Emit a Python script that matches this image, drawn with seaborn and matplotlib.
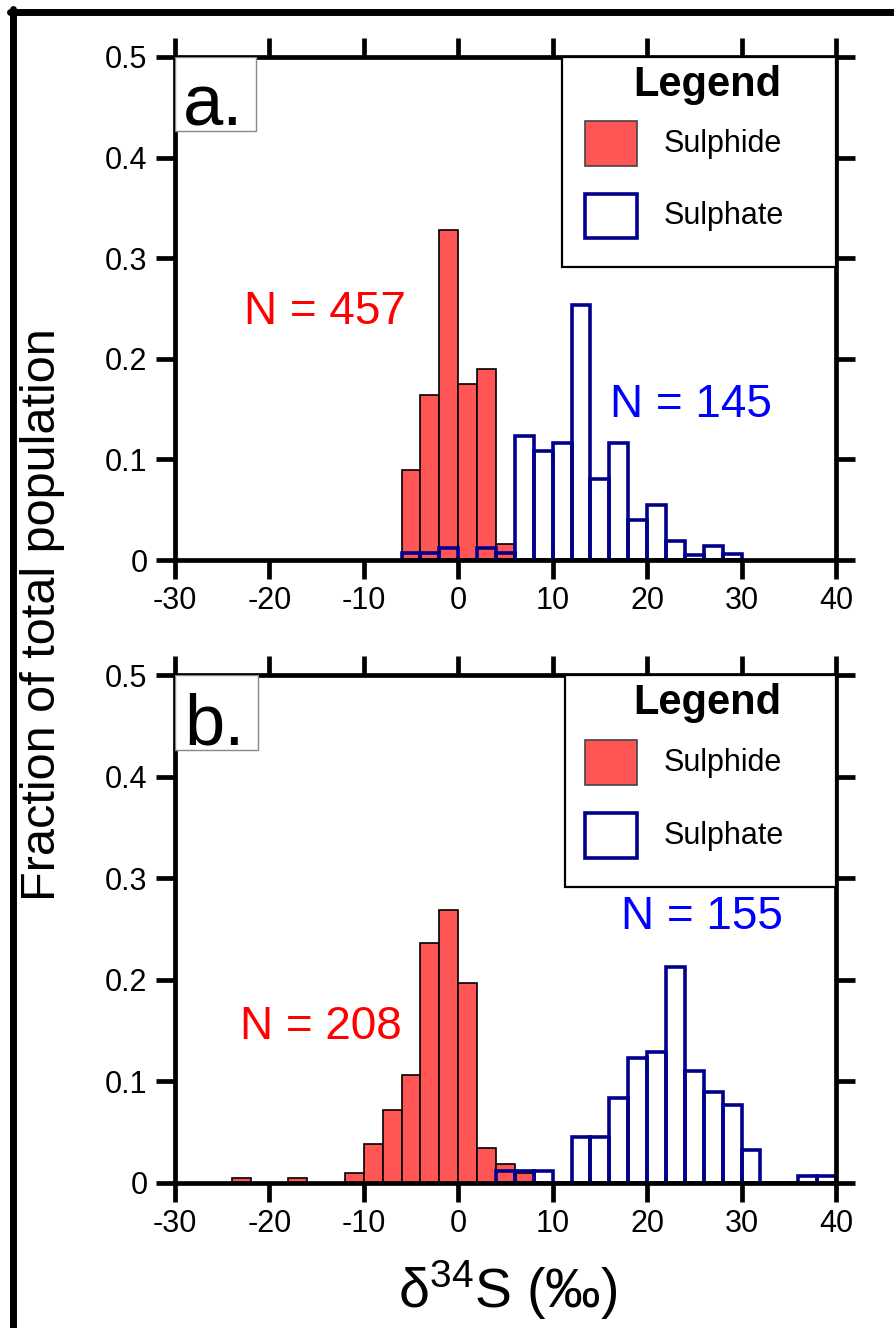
#!/usr/bin/env python3

# Sulphur isotope histograms, two panels (a. and b.)

import matplotlib
matplotlib.use("Agg")
import matplotlib.pyplot as plt
from matplotlib.patches import Rectangle
from matplotlib.lines import Line2D
import numpy as np
import pandas as pd
import seaborn as sns

# {{{ data

BIN_W = 2

# panel a
sulphide_a_start = -6
sulphide_a = [0.089, 0.164, 0.328, 0.175, 0.190, 0.016]
sulphate_a_start = -6
sulphate_a = [0.007, 0.007, 0.012, 0.0, 0.012, 0.007,
              0.123, 0.108, 0.116, 0.253, 0.081, 0.116,
              0.040, 0.055, 0.019, 0.005, 0.014, 0.006]
n_sulphide_a = "N = 457"
n_sulphate_a = "N = 145"

# panel b
sulphide_b_start = -24
sulphide_b = [0.005, 0.0, 0.0, 0.005, 0.0, 0.0, 0.0096, 0.038,
              0.072, 0.106, 0.236, 0.269, 0.197, 0.034, 0.019, 0.0096]
sulphate_b_start = 4
sulphate_b = [0.012, 0.012, 0.012, 0.0, 0.045, 0.045,
              0.084, 0.123, 0.129, 0.213, 0.110, 0.090,
              0.077, 0.032, 0.0, 0.0, 0.0065, 0.0065]
n_sulphide_b = "N = 208"
n_sulphate_b = "N = 155"

xticks = [-30, -20, -10, 0, 10, 20, 30, 40]
xticklabels = ["-30", "-20", "-10", "0", "10", "20", "30", "40"]
yticks = [0, 0.1, 0.2, 0.3, 0.4, 0.5]
yticklabels = ["0", "0.1", "0.2", "0.3", "0.4", "0.5"]

# }}} data

RED = "#FF5555"
NAVY = "#00008C"

sns.set_style("ticks")
plt.rcParams["font.family"] = ["Liberation Sans", "DejaVu Sans"]
plt.rcParams["mathtext.fontset"] = "custom"
plt.rcParams["mathtext.rm"] = "Liberation Sans"
plt.rcParams["mathtext.default"] = "regular"
plt.rcParams["text.color"] = "black"
plt.rcParams["axes.labelcolor"] = "black"
plt.rcParams["xtick.color"] = "black"
plt.rcParams["ytick.color"] = "black"


def hist(ax, start, values, **kw):
    edges = start + BIN_W * np.arange(len(values) + 1)
    df = pd.DataFrame({"d34s": edges[:-1] + BIN_W / 2, "frac": values})
    sns.histplot(data=df, x="d34s", weights="frac", binwidth=BIN_W,
                 binrange=(edges[0], edges[-1]), ax=ax, **kw)


def legend_box(ax, left):
    ax.add_patch(Rectangle((left, 0.5825), 1 - left, 0.4175,
                           transform=ax.transAxes, fill=True, facecolor="white",
                           edgecolor="black", linewidth=1.6, zorder=5, clip_on=False))
    ax.text(0.805, 0.944, "Legend", transform=ax.transAxes, ha="center", va="center",
            fontsize=30, fontweight="bold", color="black", zorder=6)
    ax.add_patch(Rectangle((0.620, 0.7833), 0.0787, 0.0895, transform=ax.transAxes,
                           facecolor=RED, edgecolor="#444444", linewidth=1.2, zorder=6))
    ax.text(0.740, 0.827, "Sulphide", transform=ax.transAxes, ha="left", va="center",
            fontsize=22, color="black", zorder=6)
    ax.add_patch(Rectangle((0.620, 0.640), 0.0787, 0.0876, transform=ax.transAxes,
                           facecolor="white", edgecolor=NAVY, linewidth=2.6, zorder=6))
    ax.text(0.740, 0.684, "Sulphate", transform=ax.transAxes, ha="left", va="center",
            fontsize=22, color="black", zorder=6)


def panel_label(ax, label, width):
    ax.add_patch(Rectangle((0, 0.853), width, 0.147, transform=ax.transAxes,
                           facecolor="white", edgecolor="#888888", linewidth=1.0, zorder=4))
    ax.text(width / 2 - 0.003, 0.9, label, transform=ax.transAxes, ha="center",
            va="center", fontsize=52, color="black", zorder=5)


fig = plt.figure(figsize=(8.95, 13.28), dpi=100)
ax_a = fig.add_axes([0.1955, 0.5783, 0.7385, 0.3788])
ax_b = fig.add_axes([0.1955, 0.1092, 0.7385, 0.3825])

panels = [
    (ax_a, sulphide_a_start, sulphide_a, sulphate_a_start, sulphate_a,
     n_sulphide_a, (0.227, 0.494), n_sulphate_a, (0.780, 0.309), "a.", 0.1225, 0.5855),
    (ax_b, sulphide_b_start, sulphide_b, sulphate_b_start, sulphate_b,
     n_sulphide_b, (0.221, 0.307), n_sulphate_b, (0.797, 0.523), "b.", 0.1256, 0.590),
]

for (ax, s_start, s_vals, o_start, o_vals, n_s, pos_s, n_o, pos_o,
     label, lab_w, leg_left) in panels:
    hist(ax, s_start, s_vals, color=RED, alpha=1, edgecolor="black", linewidth=1.2)
    hist(ax, o_start, o_vals, color=NAVY, fill=False, linewidth=2.6)

    ax.set_xlim(-30, 40)
    ax.set_ylim(0, 0.5)
    ax.set_xticks(xticks)
    ax.set_xticklabels(xticklabels)
    ax.set_yticks(yticks)
    ax.set_yticklabels(yticklabels)
    ax.set_xlabel("")
    ax.set_ylabel("")

    for sp in ax.spines.values():
        sp.set_visible(True)
        sp.set_linewidth(3.4)
        sp.set_color("black")
    ax.tick_params(which="both", direction="out", top=True, right=True,
                   length=13.7, width=3.4, labelsize=22, color="black",
                   labelcolor="black")
    ax.tick_params(axis="y", pad=6)
    ax.tick_params(axis="x", pad=5)

    ax.text(pos_s[0], pos_s[1], n_s, transform=ax.transAxes, ha="center",
            va="center", fontsize=33, color="#FF0000")
    ax.text(pos_o[0], pos_o[1], n_o, transform=ax.transAxes, ha="center",
            va="center", fontsize=33, color="#0000FF")

    panel_label(ax, label, lab_w)
    legend_box(ax, leg_left)

fig.text(0.047, 0.537, "Fraction of total population", rotation=90,
         ha="center", va="center", fontsize=35, color="black")
fig.text(0.5676, 0.0286, "δ$^{34}$S (‰)", ha="center", va="center",
         fontsize=40, color="black")

# outer frame (top and left only)
fig.add_artist(Line2D([0.011, 1.0], [0.9912, 0.9912], color="black",
                      linewidth=5, transform=fig.transFigure))
fig.add_artist(Line2D([0.0142, 0.0142], [0.0, 0.9935], color="black",
                      linewidth=5, transform=fig.transFigure))

fig.savefig("out.png", dpi=100)
plt.close(fig)
